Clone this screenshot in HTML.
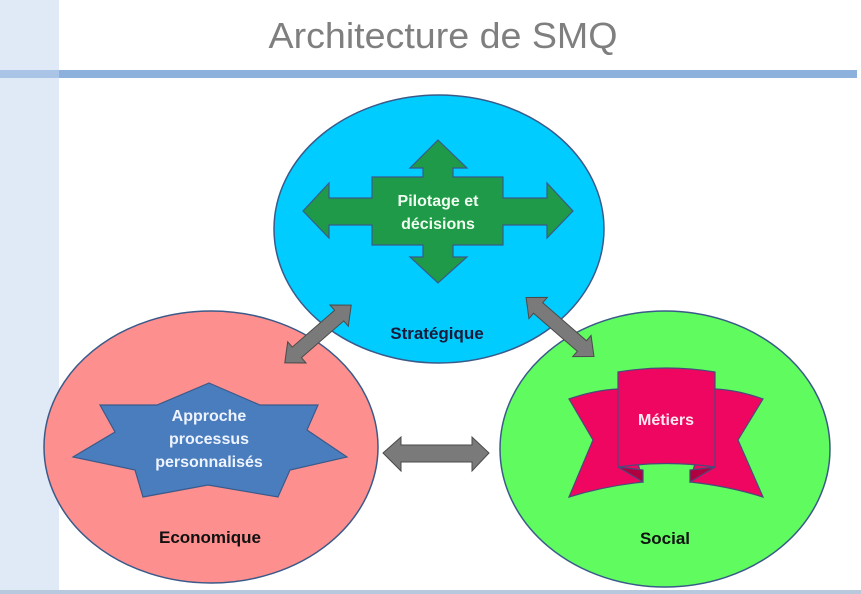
<!DOCTYPE html>
<html><head><meta charset="utf-8"><style>
html,body{margin:0;padding:0;background:#fff;}
svg{display:block;}
text{font-family:"Liberation Sans",Arial,sans-serif;}
</style></head><body>
<svg width="861" height="594" viewBox="0 0 861 594" xmlns="http://www.w3.org/2000/svg">
<rect x="0" y="0" width="861" height="594" fill="#fff"/>
<rect x="0" y="0" width="59" height="594" fill="#dfeaf6"/>
<rect x="59" y="70" width="798" height="8" fill="#8db1dd"/>
<rect x="0" y="70" width="59" height="8" fill="#a9c4e6"/>
<rect x="0" y="590" width="861" height="4" fill="#b9c9dd"/>
<text x="443" y="48" text-anchor="middle" font-size="36" fill="#7f7f7f" textLength="349" lengthAdjust="spacingAndGlyphs">Architecture de SMQ</text>

<ellipse cx="211" cy="447" rx="167" ry="136" fill="#fe8f8f" stroke="#3a5a8a" stroke-width="1.5"/>
<ellipse cx="665" cy="449" rx="165" ry="138" fill="#5ffb5f" stroke="#3a5a8a" stroke-width="1.5"/>
<ellipse cx="439" cy="229" rx="165" ry="134" fill="#00ccff" stroke="#3a5a8a" stroke-width="1.5"/>

<path d="M438,140 L467,168 L453,168 L453,177 L503,177 L503,198 L547,198 L547,183 L573,211 L547,238 L547,225 L503,225 L503,245 L453,245 L453,257 L467,257 L438,283 L410,257 L423,257 L423,245 L372,245 L372,225 L329,225 L329,238 L303,211 L329,183 L329,198 L372,198 L372,177 L423,177 L423,168 L410,168 Z" fill="#1e9a48" stroke="#3a5a8a" stroke-width="1.2"/>
<text x="438" y="206" text-anchor="middle" font-size="16" font-weight="bold" fill="#f0fff0">Pilotage et</text>
<text x="438" y="229" text-anchor="middle" font-size="16" font-weight="bold" fill="#f0fff0">décisions</text>
<text x="437" y="339" text-anchor="middle" font-size="17" font-weight="bold" fill="#1a1a3a">Stratégique</text>

<g fill="#7a7a7a" stroke="#4a4a4a" stroke-width="1">
<path d="M383,453 L401,437 L401,445 L472,445 L472,437 L489,453 L472,471 L472,462 L401,462 L401,471 Z"/>
<path transform="translate(318,334) rotate(-41)" d="M-44,0 L-28,-14 L-28,-7 L28,-7 L28,-14 L44,0 L28,14 L28,7 L-28,7 L-28,14 Z"/>
<path transform="translate(560,327) rotate(41)" d="M-45,0 L-29,-14 L-29,-7 L29,-7 L29,-14 L45,0 L29,14 L29,7 L-29,7 L-29,14 Z"/>
</g>

<path d="M209,383 L260,405 L318,405 L307,430 L347,457 L290,470 L278,497 L208,485 L143,497 L135,470 L73,457 L115,432 L100,405 L157,405 Z" fill="#4a7dbd" stroke="#3a5a8a" stroke-width="1.2"/>
<text x="209" y="421" text-anchor="middle" font-size="16" font-weight="bold" fill="#eef4ff">Approche</text>
<text x="209" y="444" text-anchor="middle" font-size="16" font-weight="bold" fill="#eef4ff">processus</text>
<text x="209" y="467" text-anchor="middle" font-size="16" font-weight="bold" fill="#eef4ff">personnalisés</text>
<text x="210" y="543" text-anchor="middle" font-size="17" font-weight="bold" fill="#111">Economique</text>

<g fill="#ee0660" stroke="#4a4a7a" stroke-width="1.2">
<path d="M569,399 Q595,390 618,389 L643,482 Q605,486 569,497 L593,440 Z"/>
<path d="M763,399 Q738,390 715,389 L690,482 Q728,486 763,497 L738,440 Z"/>
<path d="M618,467 L643,482 L643,470 Z" fill="#b00040"/>
<path d="M715,467 L690,482 L690,470 Z" fill="#b00040"/>
<path d="M618,372 Q666,364 715,372 L715,467 Q666,460 618,467 Z"/>
</g>
<text x="666" y="425" text-anchor="middle" font-size="16" font-weight="bold" fill="#ffe8f0">Métiers</text>
<text x="665" y="544" text-anchor="middle" font-size="17" font-weight="bold" fill="#111">Social</text>
</svg>
</body></html>
